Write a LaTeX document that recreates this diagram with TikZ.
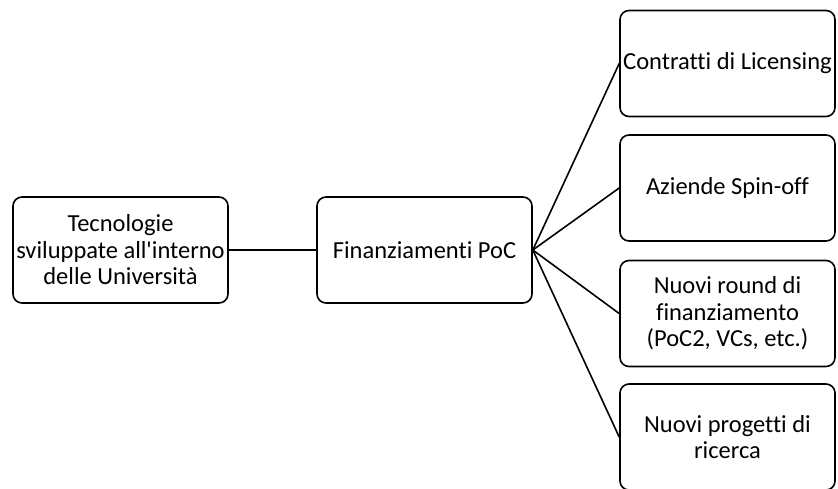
\documentclass[tikz,border=0pt]{standalone}
\usepackage{fontspec}
\setmainfont{Carlito}[Ligatures=NoCommon]
\usetikzlibrary{positioning}

\begin{document}
\begin{tikzpicture}[x=1pt,y=-1pt,
    box/.style={rectangle, rounded corners=9pt, draw=black, fill=white,
                minimum width=215pt, minimum height=106pt, align=center,
                font=\fontsize{24.5}{26.5}\selectfont, inner sep=0pt,
                line width=1.6pt},
    link/.style={line width=1.6pt}
  ]
  \clip (0,0) rectangle (838,488);
  \node[box] (tecno) at (120.5,250) {Tecnologie\\sviluppate all\textquotesingle interno\\delle Università};
  \node[box] (poc) at (424.5,250) {Finanziamenti PoC};
  \node[box] (lic) at (727.5,63.5) {Contratti di Licensing};
  \node[box] (spin) at (727.5,188) {Aziende Spin-off};
  \node[box] (round) at (727.5,313.5) {Nuovi round di\\finanziamento\\(PoC2, VCs, etc.)};
  \node[box] (ricerca) at (727.5,437) {Nuovi progetti di\\ricerca};
  % connettori
  \draw[link] (tecno.east) -- (poc.west);
  \draw[link] (poc.east) -- (lic.west);
  \draw[link] (poc.east) -- (spin.west);
  \draw[link] (poc.east) -- (round.west);
  \draw[link] (poc.east) -- (ricerca.west);
\end{tikzpicture}
\end{document}
